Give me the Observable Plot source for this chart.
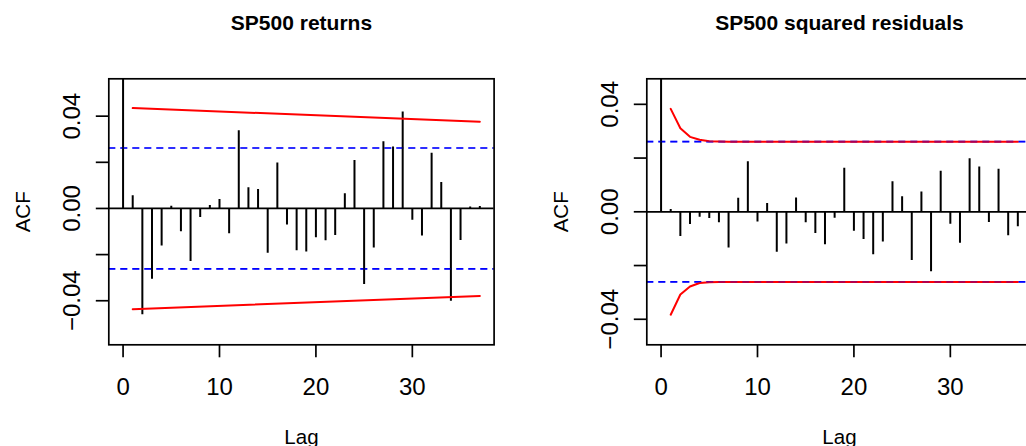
<!DOCTYPE html>
<html><head><meta charset="utf-8">
<script src="https://cdn.jsdelivr.net/npm/d3@7"></script>
<script src="https://cdn.jsdelivr.net/npm/@observablehq/plot@0.6"></script>
<style>
html,body{margin:0;padding:0;overflow:hidden;background:#fff;width:1026px;height:446px;}
#wrap{position:relative;width:1026px;height:446px;overflow:hidden;}
#wrap svg{position:absolute;top:0;}
</style></head><body><div id="wrap"></div>
<script>
const lags = [0,1,2,3,4,5,6,7,8,9,10,11,12,13,14,15,16,17,18,19,20,21,22,23,24,25,26,27,28,29,30,31,32,33,34,35,36,37];
const returnsAcf = [1,0.0055,-0.0461,-0.0307,-0.0163,0.0010,-0.0101,-0.0230,-0.0039,0.0013,0.0039,-0.0110,0.0337,0.0090,0.0082,-0.0194,0.0197,-0.0072,-0.0183,-0.0189,-0.0127,-0.0140,-0.0117,0.0064,0.0208,-0.0330,-0.0171,0.0289,0.0266,0.0418,-0.0051,-0.0119,0.0239,0.0113,-0.0402,-0.0139,0.0006,0.0009];
const sqresAcf = [1,0.0009,-0.0092,-0.0047,-0.0020,-0.0025,-0.0041,-0.0135,0.0050,0.0186,-0.0038,0.0031,-0.0151,-0.0120,0.0051,-0.0041,-0.0081,-0.0123,-0.0024,0.0162,-0.0072,-0.0103,-0.0160,-0.0112,0.0112,0.0056,-0.0181,0.0074,-0.0223,0.0151,-0.0046,-0.0117,0.0197,0.0167,-0.0040,0.0158,-0.0089,-0.0056];
const returnsBandLags = [1, 37];
const returnsBandUpper = [0.0435, 0.0376];
const returnsBandLower = [-0.0437, -0.0379];
const sqresBandLags = [1,2,3,4,5,6,7,8,9,10,11,12,13,14,15,16,17,18,19,20,21,22,23,24,25,26,27,28,29,30,31,32,33,34,35,36,37];
const sqresBandUpper = [0.0383,0.0311,0.0279,0.0268,0.0263,0.0262,0.0261,0.0261,0.0261,0.0261,0.0261,0.0261,0.0261,0.0261,0.0261,0.0261,0.0261,0.0261,0.0261,0.0261,0.0261,0.0261,0.0261,0.0261,0.0261,0.0261,0.0261,0.0261,0.0261,0.0261,0.0261,0.0261,0.0261,0.0261,0.0261,0.0261,0.0261];
const sqresBandLower = [-0.0383,-0.0308,-0.0278,-0.0265,-0.0262,-0.0261,-0.0261,-0.0261,-0.0261,-0.0261,-0.0261,-0.0261,-0.0261,-0.0261,-0.0261,-0.0261,-0.0261,-0.0261,-0.0261,-0.0261,-0.0261,-0.0261,-0.0261,-0.0261,-0.0261,-0.0261,-0.0261,-0.0261,-0.0261,-0.0261,-0.0261,-0.0261,-0.0261,-0.0261,-0.0261,-0.0261,-0.0261];
const ciReturns = [0.0262, -0.0262];
const ciSqres = [0.0261, -0.0261];
const xTicks = [0, 10, 20, 30];
const yTicks = [-0.04, -0.02, 0, 0.02, 0.04];
const yLabelTicks = [-0.04, 0, 0.04];
const titles = ["SP500 returns", "SP500 squared residuals"];
const xLabel = "Lag";
const yLabel = "ACF";

const FONT = "'Liberation Sans', Arial, Helvetica, sans-serif";
const fmt = d3.format(".2f");

function panel({title, acf, bandLags, bandUpper, bandLower, ci, yDomain, left}) {
  const bars = lags.map((l, i) => ({lag: l, acf: acf[i]}));
  const up = bandLags.map((l, i) => ({lag: l, v: bandUpper[i]}));
  const lo = bandLags.map((l, i) => ({lag: l, v: bandLower[i]}));
  const svg = Plot.plot({
    width: 513, height: 446,
    marginLeft: 108.3, marginRight: 19.4, marginTop: 78.3, marginBottom: 101.7,
    style: {fontFamily: FONT, color: "black", background: "transparent", overflow: "visible"},
    x: {domain: [-1.48, 38.48], label: null},
    y: {domain: yDomain, label: null},
    marks: [
      Plot.ruleY(ci, {stroke: "blue", strokeWidth: 1.7, strokeDasharray: "7,5"}),
      Plot.ruleY([0], {stroke: "black", strokeWidth: 1.7}),
      Plot.ruleX(bars, {x: "lag", y1: 0, y2: "acf", stroke: "black", strokeWidth: 2, clip: true}),
      Plot.line(up, {x: "lag", y: "v", stroke: "red", strokeWidth: 2}),
      Plot.line(lo, {x: "lag", y: "v", stroke: "red", strokeWidth: 2}),
      Plot.ruleY(ci, {stroke: "blue", strokeOpacity: 0.35, strokeWidth: 1.7, strokeDasharray: "7,5"}),
      Plot.frame({stroke: "black", strokeWidth: 1.7}),
      Plot.axisX({ticks: xTicks, tickSize: 13, tickPadding: 20, fontSize: 24, tickFormat: d => String(d), strokeWidth: 1.7, label: null}),
      Plot.axisY({ticks: yTicks, tickSize: 12.5, tickFormat: () => "", strokeWidth: 1.7, label: null}),
      Plot.text(yLabelTicks, {y: d => d, text: d => fmt(d), frameAnchor: "left", dx: -29.3, rotate: -90, textAnchor: "middle", lineAnchor: "bottom", fontSize: 24, fill: "black"}),
      Plot.text([title], {frameAnchor: "top", dy: -49.3, lineAnchor: "bottom", fontSize: 21, fontWeight: "bold", fill: "black"}),
      Plot.text([xLabel], {frameAnchor: "bottom", dy: 98.7, lineAnchor: "bottom", fontSize: 20.5, fill: "black"}),
      Plot.text([yLabel], {frameAnchor: "left", dx: -79, rotate: -90, textAnchor: "middle", lineAnchor: "bottom", fontSize: 20.5, fill: "black"})
    ]
  });
  svg.style.left = left + "px";
  return svg;
}

const wrap = document.getElementById("wrap");
wrap.appendChild(panel({title: titles[0], acf: returnsAcf, bandLags: returnsBandLags, bandUpper: returnsBandUpper, bandLower: returnsBandLower, ci: ciReturns, yDomain: [-0.0591, 0.0562], left: 0}));
wrap.appendChild(panel({title: titles[1], acf: sqresAcf, bandLags: sqresBandLags, bandUpper: sqresBandUpper, bandLower: sqresBandLower, ci: ciSqres, yDomain: [-0.0495, 0.0495], left: 537.7}));
</script></body></html>
